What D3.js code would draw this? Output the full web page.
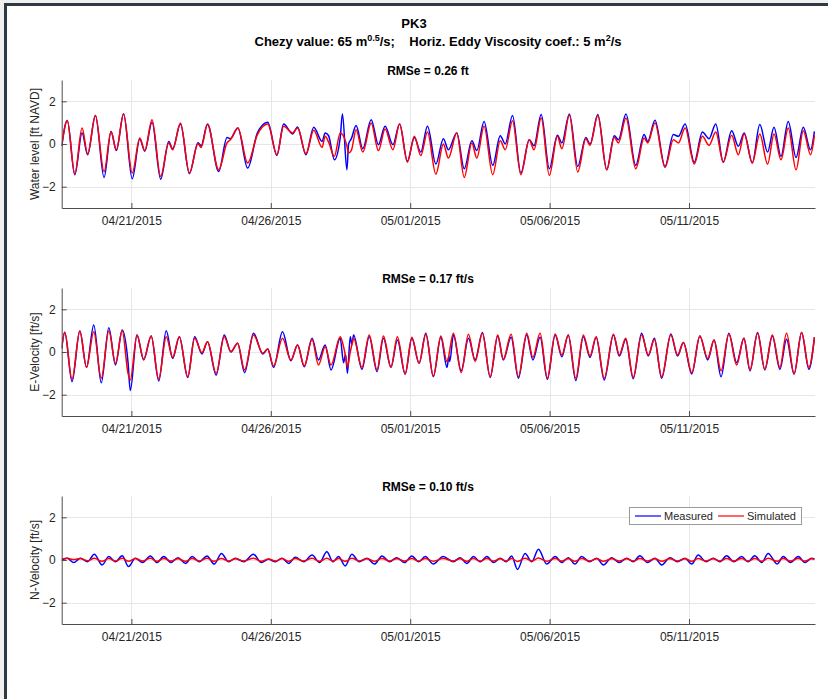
<!DOCTYPE html>
<html>
<head>
<meta charset="utf-8">
<script src="https://cdn.jsdelivr.net/npm/d3@7/dist/d3.min.js"></script>
<style>
  body { margin: 0; background: #f0f0f0; }
  svg { display: block; font-family: "Liberation Sans", Arial, Helvetica, sans-serif; }
</style>
</head>
<body>
<svg id="fig"></svg>
<script>
// ---- data (times = days since 04/18/2015 00:00 at each turning point) ----
const tickLabels = ["04/21/2015", "04/26/2015", "05/01/2015", "05/06/2015", "05/11/2015"];
const yTicks = [-2, 0, 2];
const rmseTitles = ["RMSe = 0.26 ft", "RMSe = 0.17 ft/s", "RMSe = 0.10 ft/s"];
const yLabels = ["Water level [ft NAVD]", "E-Velocity [ft/s]", "N-Velocity [ft/s]"];
const seriesNames = ["Measured", "Simulated"];

// water level
const wlTime = [0.50,0.70,0.97,1.23,1.43,1.71,2.02,2.27,2.46,2.72,
  3.03,3.30,3.48,3.74,4.05,4.34,4.48,4.76,5.08,5.39,
  5.50,5.73,6.13,6.43,6.55,6.82,7.17,7.52,7.89,8.22,
  8.46,8.78,8.96,9.26,9.54,9.84,9.95,10.07,10.28,10.49,
  10.57,10.73,10.79,10.89,11.06,11.30,11.60,11.86,12.10,12.38,
  12.62,12.90,13.15,13.38,13.62,13.92,14.19,14.37,14.67,14.94,
  15.21,15.39,15.65,15.96,16.23,16.41,16.67,16.97,17.27,17.44,
  17.70,17.99,18.28,18.44,18.71,19.01,19.30,19.45,19.73,20.05,
  20.32,20.47,20.74,21.09,21.39,21.52,21.78,22.14,22.44,22.62,
  22.86,23.19,23.48,23.72,23.96,24.23,24.53,24.77,24.98,25.27,
  25.54,25.82,26.05,26.30,26.56,26.84,27.10,27.36,27.50];
const wlSim = [-0.1,1.1,-1.41,0.75,-0.47,1.34,-1.29,0.59,-0.27,1.41,
  -1.36,0.28,-0.31,1.14,-1.52,0.05,-0.27,0.99,-1.36,0.01,
  -0.16,0.91,-1.21,0.05,0.2,0.75,-0.89,0.44,0.94,-0.5,
  0.83,0.52,0.75,-0.46,0.65,-0.16,0.36,0.1,-0.58,0.52,
  0.45,-0.1,-0.42,-0.3,0.67,-0.38,0.99,-0.31,0.7,-0.27,
  0.94,-0.85,0.36,-0.54,0.56,-1.41,0.0,-0.66,0.52,-1.57,
  0.05,-0.66,0.83,-1.44,0.15,-0.27,1.09,-1.44,0.2,-0.27,
  1.22,-1.47,0.36,-0.22,1.36,-1.31,0.25,-0.06,1.34,-1.21,
  0.31,0.05,1.22,-1.16,0.28,0.05,0.99,-1.1,0.2,0.05,
  0.75,-0.94,0.36,-0.06,0.56,-0.85,0.41,-0.5,0.47,-0.89,
  0.47,-0.94,0.47,-0.74,0.75,-1.21,0.62,-0.5,0.41];
const wlMeas = [-0.1,1.1,-1.44,0.51,-0.5,1.34,-1.57,0.59,-0.31,1.42,
  -1.63,0.23,-0.34,1.02,-1.65,0.12,-0.23,0.94,-1.39,0.06,
  -0.08,0.94,-1.29,0.3,0.25,0.75,-1.13,0.52,1.02,-0.53,
  0.94,0.47,0.8,-0.5,0.78,0.12,0.52,0.4,-0.74,0.3,
  1.41,-1.21,0.0,0.25,0.87,-0.22,1.14,-0.03,0.83,-0.03,
  0.94,-0.8,0.3,-0.38,0.83,-0.94,0.25,-0.27,0.52,-1.16,
  0.15,-0.31,1.06,-1.0,0.39,0.0,1.34,-1.36,0.2,-0.08,
  1.38,-1.16,0.41,0.05,1.41,-1.05,0.31,0.0,1.38,-1.21,
  0.39,0.2,1.41,-1.0,0.44,0.12,1.11,-1.05,0.44,0.36,
  0.94,-0.85,0.56,0.25,0.94,-0.85,0.62,-0.11,0.52,-0.89,
  0.91,-0.38,0.78,-0.58,1.06,-0.63,0.78,-0.27,0.59];

// east velocity
const evTime = [0.50,0.61,0.87,1.15,1.39,1.65,1.92,2.19,2.43,2.67,
  2.88,2.96,3.20,3.44,3.71,3.98,4.25,4.48,4.72,5.02,
  5.27,5.53,5.73,6.04,6.33,6.57,6.81,7.06,7.38,7.71,
  7.89,8.10,8.42,8.72,8.96,9.20,9.48,9.71,9.95,10.16,
  10.49,10.61,10.68,10.75,10.85,10.91,10.97,11.27,11.53,11.81,
  12.04,12.31,12.54,12.82,13.06,13.32,13.56,13.83,14.10,14.32,
  14.39,14.42,14.55,14.83,15.09,15.33,15.59,15.87,16.14,16.34,
  16.62,16.88,17.18,17.40,17.66,17.92,18.20,18.44,18.67,18.94,
  19.21,19.45,19.67,19.96,20.29,20.50,20.73,21.00,21.30,21.54,
  21.76,22.02,22.35,22.59,22.80,23.10,23.39,23.67,23.90,24.15,
  24.43,24.71,24.97,25.19,25.46,25.72,25.99,26.26,26.50,26.77,
  27.04,27.30,27.50];
const evSim = [0.17,0.92,-1.28,0.98,-0.72,0.95,-1.23,0.98,-0.53,1.0,
  -1.0,-1.31,0.8,-0.34,0.75,-1.27,0.72,-0.25,0.72,-1.16,
  0.64,-0.03,0.48,-1.0,0.72,0.02,0.41,-0.84,0.8,-0.06,
  0.14,-0.66,0.64,-0.38,0.33,-0.66,0.59,-0.61,0.25,-0.61,
  0.72,0.25,-0.2,-0.69,0.0,0.35,0.64,-0.72,0.8,-0.84,
  0.75,-0.72,0.72,-1.03,0.69,-0.53,0.83,-1.13,0.75,-0.45,
  -0.15,0.1,0.88,-0.97,0.83,-0.45,0.88,-1.16,0.8,-0.34,
  0.83,-1.16,0.88,-0.25,0.88,-1.23,0.84,-0.14,0.8,-1.23,
  0.8,-0.19,0.72,-1.23,0.83,-0.14,0.64,-1.19,0.8,-0.14,
  0.59,-1.16,0.8,-0.14,0.44,-0.97,0.75,-0.3,0.56,-0.88,
  0.84,-0.61,0.64,-0.84,0.88,-0.81,0.8,-0.72,0.88,-1.03,
  0.91,-0.72,0.69];
const evMeas = [0.17,0.92,-1.39,0.98,-0.72,1.27,-1.44,1.14,-0.61,1.03,
  -0.5,-1.81,0.8,-0.37,0.75,-1.36,1.0,-0.3,0.72,-1.2,
  0.72,-0.09,0.48,-1.08,0.8,0.0,0.41,-0.97,0.88,-0.09,
  0.14,-0.72,0.95,-0.41,0.33,-0.69,0.64,-0.37,0.33,-0.84,
  0.64,-0.5,-0.1,-1.0,0.72,0.35,0.8,-0.81,0.72,-0.92,
  0.64,-0.72,0.56,-1.03,0.64,-0.53,0.88,-1.16,0.69,-0.72,
  -0.2,-0.45,0.8,-0.88,0.64,-0.37,0.91,-1.19,0.75,-0.37,
  0.69,-1.23,0.8,-0.37,0.69,-1.28,0.8,-0.22,0.8,-1.34,
  0.72,-0.25,0.69,-1.31,0.8,-0.19,0.59,-1.25,0.88,-0.19,
  0.64,-1.23,0.84,-0.19,0.44,-1.03,0.75,-0.37,0.56,-1.16,
  0.88,-0.5,0.64,-0.88,0.91,-0.84,0.75,-0.81,0.6,-1.03,
  0.91,-0.81,0.69];

// north velocity
const nvTime = [0.50,0.70,0.93,1.17,1.43,1.67,1.95,2.19,2.43,2.67,
  2.90,3.14,3.40,3.68,3.92,4.16,4.42,4.67,4.94,5.18,
  5.44,5.71,5.97,6.23,6.49,6.73,7.03,7.38,7.66,7.92,
  8.16,8.40,8.64,8.88,9.18,9.48,9.75,10.01,10.23,10.43,
  10.67,10.91,11.17,11.45,11.72,11.99,12.26,12.52,12.80,13.06,
  13.30,13.54,13.83,14.18,14.55,14.79,15.03,15.27,15.51,15.75,
  15.99,16.23,16.44,16.64,16.85,17.12,17.36,17.60,17.90,18.20,
  18.44,18.67,18.91,19.15,19.43,19.69,19.93,20.23,20.50,20.77,
  21.00,21.24,21.51,21.78,22.02,22.32,22.58,22.86,23.10,23.33,
  23.61,23.87,24.11,24.35,24.61,24.89,25.12,25.36,25.61,25.84,
  26.16,26.38,26.64,26.92,27.16,27.40,27.50];
const nvMeas = [0.0,0.08,-0.12,0.08,-0.08,0.27,-0.23,0.16,-0.08,0.2,
  -0.31,0.08,-0.12,0.19,-0.12,0.16,-0.12,0.11,-0.16,0.16,
  -0.08,0.19,-0.19,0.31,-0.08,0.08,-0.08,0.27,-0.12,0.03,
  -0.08,0.08,-0.16,0.13,-0.08,0.23,-0.12,0.39,-0.08,0.16,
  -0.28,0.27,-0.08,0.08,-0.19,0.19,-0.08,0.11,-0.12,0.19,
  -0.08,0.16,-0.19,0.16,-0.08,0.11,-0.16,0.16,-0.08,0.16,
  -0.12,0.08,-0.08,0.19,-0.44,0.31,-0.08,0.5,-0.19,0.16,
  -0.12,0.11,-0.19,0.16,-0.08,0.08,-0.23,0.11,-0.12,0.08,
  -0.08,0.2,-0.12,0.08,-0.23,0.11,-0.08,0.08,-0.19,0.23,
  -0.08,0.08,-0.08,0.2,-0.08,0.16,-0.08,0.2,-0.12,0.31,
  -0.19,0.16,-0.12,0.16,-0.12,0.08,0.05];
const nvSim = [0.05,0.08,0.02,0.07,-0.04,0.08,-0.06,0.07,-0.05,0.08,
  -0.06,0.07,-0.05,0.08,-0.06,0.07,-0.05,0.06,-0.06,0.07,
  -0.05,0.08,-0.06,0.07,-0.05,0.06,-0.05,0.08,-0.06,0.05,
  -0.05,0.07,-0.06,0.07,-0.05,0.08,-0.06,0.08,-0.05,0.07,
  -0.06,0.08,-0.05,0.06,-0.06,0.07,-0.05,0.06,-0.05,0.07,
  -0.05,0.07,-0.06,0.07,-0.05,0.06,-0.06,0.07,-0.05,0.07,
  -0.05,0.06,-0.05,0.07,-0.07,0.08,-0.05,0.09,-0.06,0.07,
  -0.05,0.06,-0.06,0.07,-0.05,0.06,-0.06,0.06,-0.05,0.06,
  -0.05,0.07,-0.05,0.06,-0.06,0.06,-0.05,0.06,-0.06,0.07,
  -0.05,0.06,-0.05,0.07,-0.05,0.07,-0.05,0.07,-0.06,0.08,
  -0.06,0.07,-0.05,0.07,-0.05,0.06,0.04];

// ---- layout ----
const W = 828, H = 699;
const plotLeft = 61.7, plotRight = 815;
const panelTops = [80, 288, 496];
const panelH = 128;
const blue = "#0000ff", red = "#ff0000";

const svg = d3.select("#fig").attr("width", W).attr("height", H);

// figure window frame
svg.append("rect").attr("width", W).attr("height", H).attr("fill", "#f0f0f0");
svg.append("rect").attr("x", 4).attr("y", 3).attr("width", W).attr("height", H).attr("fill", "#2e3943");
svg.append("rect").attr("x", 7).attr("y", 6).attr("width", W).attr("height", H).attr("fill", "#ffffff");

const base = new Date(2015, 3, 18);
const toDate = d => new Date(base.getTime() + d * 864e5);
const parseTick = d3.timeParse("%m/%d/%Y");
const fmtTick = d3.timeFormat("%m/%d/%Y");
const tickDates = tickLabels.map(parseTick);

const x = d3.scaleTime()
  .domain([toDate(0.50), toDate(27.52)])
  .range([plotLeft, plotRight]);

const panels = [
  {time: wlTime, meas: wlMeas, sim: wlSim},
  {time: evTime, meas: evMeas, sim: evSim},
  {time: nvTime, meas: nvMeas, sim: nvSim}
];

// figure titles
const titleX = 428;
svg.append("text").attr("x", 414).attr("y", 28)
  .attr("text-anchor", "middle").attr("font-size", 13).attr("font-weight", "bold")
  .attr("fill", "#000").text("PK3");

const sub = svg.append("text").attr("x", 438).attr("y", 46)
  .attr("text-anchor", "middle").attr("font-size", 13).attr("font-weight", "bold")
  .attr("fill", "#000").style("white-space", "pre");
sub.append("tspan").text("Chezy value: 65 m");
sub.append("tspan").attr("dy", -5).attr("font-size", 9).text("0.5");
sub.append("tspan").attr("dy", 5).text("/s;    Horiz. Eddy Viscosity coef.: 5 m");
sub.append("tspan").attr("dy", -5).attr("font-size", 9).text("2");
sub.append("tspan").attr("dy", 5).text("/s");

panels.forEach((p, i) => {
  const top = panelTops[i];
  const y = d3.scaleLinear().domain([-3, 3]).range([top + panelH, top]);
  const g = svg.append("g");

  // grid
  g.selectAll(".gx").data(tickDates).join("line")
    .attr("x1", d => Math.round(x(d)) + 0.5).attr("x2", d => Math.round(x(d)) + 0.5)
    .attr("y1", top).attr("y2", top + panelH)
    .attr("stroke", "#e6e6e6");
  g.selectAll(".gy").data(yTicks).join("line")
    .attr("x1", plotLeft).attr("x2", plotRight)
    .attr("y1", d => Math.round(y(d)) + 0.5).attr("y2", d => Math.round(y(d)) + 0.5)
    .attr("stroke", "#e6e6e6");

  // lines
  const clipId = "clip" + i;
  svg.append("clipPath").attr("id", clipId).append("rect")
    .attr("x", plotLeft).attr("y", top).attr("width", plotRight - plotLeft).attr("height", panelH);

  const line = vals => d3.line()
    .x((d, k) => x(toDate(p.time[k])))
    .y(d => y(d))
    .curve(d3.curveMonotoneX)(vals);

  g.append("path").attr("d", line(p.meas)).attr("fill", "none")
    .attr("stroke", blue).attr("stroke-width", 1.5).attr("clip-path", `url(#${clipId})`);
  g.append("path").attr("d", line(p.sim)).attr("fill", "none")
    .attr("stroke", red).attr("stroke-width", 1.5).attr("clip-path", `url(#${clipId})`);

  // axes
  const xAxis = d3.axisBottom(x).tickValues(tickDates).tickFormat(fmtTick)
    .tickSizeInner(-5).tickSizeOuter(0).tickPadding(8);
  const yAxis = d3.axisLeft(y).tickValues(yTicks).tickFormat(d3.format("d"))
    .tickSizeInner(-5).tickSizeOuter(0).tickPadding(6);

  const xg = g.append("g").attr("transform", `translate(0,${top + panelH})`).call(xAxis);
  const yg = g.append("g").attr("transform", `translate(${plotLeft},0)`).call(yAxis);
  [xg, yg].forEach(a => {
    a.selectAll("path, line").attr("stroke", "#4d4d4d");
    a.selectAll("text").attr("fill", "#262626").attr("font-size", 12)
      .attr("font-family", '"Liberation Sans", Arial, sans-serif');
  });

  // panel title and y label
  g.append("text").attr("x", titleX).attr("y", top - 5)
    .attr("text-anchor", "middle").attr("font-size", 12).attr("font-weight", "bold")
    .attr("fill", "#000").text(rmseTitles[i]);
  g.append("text")
    .attr("transform", `translate(39,${top + panelH / 2}) rotate(-90)`)
    .attr("text-anchor", "middle").attr("font-size", 12).attr("fill", "#262626")
    .text(yLabels[i]);

  // legend in the last panel
  if (i === 2) {
    const lg = g.append("g");
    lg.append("rect").attr("x", 629.5).attr("y", 507.5).attr("width", 172).attr("height", 17)
      .attr("fill", "#fff").attr("stroke", "#9a9a9a");
    const items = [
      {name: seriesNames[0], color: blue, x0: 635},
      {name: seriesNames[1], color: red, x0: 718}
    ];
    items.forEach(it => {
      lg.append("line").attr("x1", it.x0).attr("x2", it.x0 + 26)
        .attr("y1", 516).attr("y2", 516).attr("stroke", it.color).attr("stroke-width", 1.2);
      lg.append("text").attr("x", it.x0 + 29).attr("y", 520)
        .attr("font-size", 11).attr("fill", "#262626").text(it.name);
    });
  }
});
</script>
</body>
</html>
